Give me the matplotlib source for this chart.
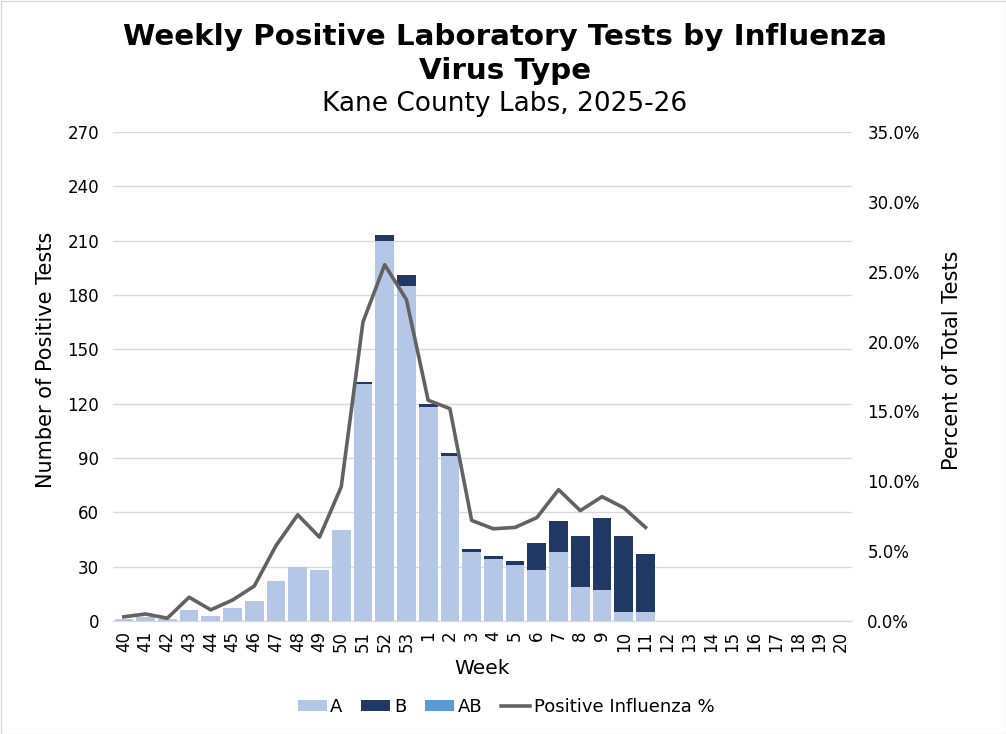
import matplotlib.pyplot as plt
import numpy as np
from matplotlib.ticker import FuncFormatter

plt.rcParams['font.family'] = ['DejaVu Sans']

weeks = [str(w) for w in range(40, 54)] + [str(w) for w in range(1, 21)]

flu_a = [1, 2, 1, 6, 3, 7, 11, 22, 30, 28, 50, 131, 210, 185, 118, 91,
         38, 34, 31, 28, 38, 19, 17, 5, 5]
flu_b = [0, 0, 0, 0, 0, 0, 0, 0, 0, 0, 0, 1, 3, 6, 2, 2,
         2, 2, 2, 15, 17, 28, 40, 42, 32]
flu_ab = [0] * 25
pos_pct = [0.3, 0.5, 0.2, 1.7, 0.8, 1.5, 2.5, 5.4, 7.6, 6.0, 9.6, 21.4,
           25.5, 23.0, 15.8, 15.2, 7.2, 6.6, 6.7, 7.4, 9.4, 7.9, 8.9, 8.1, 6.7]

col_a = '#b4c7e7'
col_b = '#203864'
col_ab = '#5b9bd5'
col_line = '#626262'

n = len(flu_a)
x_all = np.arange(len(weeks))
x = np.arange(n)
a = np.array(flu_a)
b = np.array(flu_b)
ab = np.array(flu_ab)

fig = plt.figure(figsize=(10.06, 7.34), dpi=100)
ax = fig.add_axes([113 / 1006, 1 - 621 / 734, 739 / 1006, 489 / 734])
ax2 = ax.twinx()

ax.bar(x, a, width=0.86, color=col_a, label='A', zorder=2)
ax.bar(x, b, width=0.86, bottom=a, color=col_b, label='B', zorder=2)
ax.bar(x, ab, width=0.86, bottom=a + b, color=col_ab, label='AB', zorder=2)
ax2.plot(x, pos_pct, color=col_line, lw=2.6, label='Positive Influenza %')

ax.set_xlim(-0.5, len(weeks) - 0.5)
ax.set_ylim(0, 270)
ax.set_yticks(np.arange(0, 271, 30))
ax2.set_ylim(0, 35)
ax2.set_yticks(np.arange(0, 35.1, 5))
ax2.yaxis.set_major_formatter(FuncFormatter(lambda v, p: f'{v:.1f}%'))

ax.set_xticks(x_all)
ax.set_xticklabels(weeks, rotation=90)
ax.grid(axis='y', color='#d9d9d9', lw=1, zorder=0)
ax.set_axisbelow(True)

for a_ in (ax, ax2):
    for s in a_.spines.values():
        s.set_visible(False)
    a_.tick_params(length=0, labelsize=12, colors='#000000')
ax.spines['bottom'].set_visible(True)
ax.spines['bottom'].set_color('#d9d9d9')
ax.tick_params(axis='y', pad=10)
ax.tick_params(axis='x', pad=7)
ax2.tick_params(axis='y', pad=11)

ax.set_xlabel('Week', fontsize=14.5, labelpad=5)
ax.set_ylabel('Number of Positive Tests', fontsize=15, labelpad=8)
ax2.set_ylabel('Percent of Total Tests', fontsize=15, labelpad=16)
ax.yaxis.label.set_y(0.534)
ax2.yaxis.label.set_y(0.534)

fig.text(0.502, 1 - 37 / 734, 'Weekly Positive Laboratory Tests by Influenza',
         ha='center', va='center', fontsize=21.2, fontweight='bold')
fig.text(0.502, 1 - 71 / 734, 'Virus Type',
         ha='center', va='center', fontsize=21.2, fontweight='bold')
fig.text(0.502, 1 - 104 / 734, 'Kane County Labs, 2025-26',
         ha='center', va='center', fontsize=19)

h1, l1 = ax.get_legend_handles_labels()
h2, l2 = ax2.get_legend_handles_labels()
fig.legend(h1 + h2, l1 + l2, loc='center', bbox_to_anchor=(0.503, 1 - 707 / 734),
           ncol=4, frameon=False, fontsize=13, handlelength=1.6, handleheight=0.55,
           columnspacing=1.05, handletextpad=0.2)

fig.add_artist(plt.Rectangle((0.5 / 1006, 0.5 / 734), 1 - 1 / 1006, 1 - 1 / 734,
                             transform=fig.transFigure, fill=False,
                             edgecolor='#d9d9d9', lw=1))

fig.savefig('out.png', dpi=100)
